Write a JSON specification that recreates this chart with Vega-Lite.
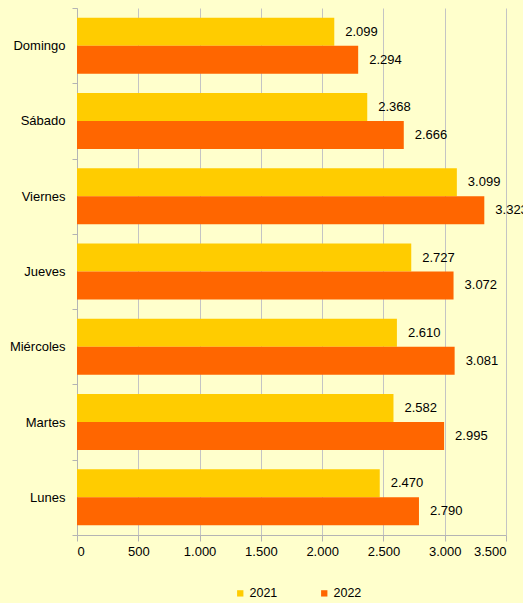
{
  "$schema": "https://vega.github.io/schema/vega-lite/v6.json",
  "width": 429,
  "height": 527,
  "autosize": {"type": "none"},
  "padding": {"left": 77, "top": 8, "right": 17, "bottom": 68},
  "background": "#FFFFCC",
  "config": {
    "locale": {"number": {"decimal": ",", "thousands": ".", "grouping": [3], "currency": ["", " €"]}},
    "view": {"stroke": null},
    "font": "Liberation Sans"
  },
  "data": {
    "values": [
      {"dia": "Domingo", "year": "2021", "value": 2099},
      {"dia": "Domingo", "year": "2022", "value": 2294},
      {"dia": "Sábado", "year": "2021", "value": 2368},
      {"dia": "Sábado", "year": "2022", "value": 2666},
      {"dia": "Viernes", "year": "2021", "value": 3099},
      {"dia": "Viernes", "year": "2022", "value": 3323},
      {"dia": "Jueves", "year": "2021", "value": 2727},
      {"dia": "Jueves", "year": "2022", "value": 3072},
      {"dia": "Miércoles", "year": "2021", "value": 2610},
      {"dia": "Miércoles", "year": "2022", "value": 3081},
      {"dia": "Martes", "year": "2021", "value": 2582},
      {"dia": "Martes", "year": "2022", "value": 2995},
      {"dia": "Lunes", "year": "2021", "value": 2470},
      {"dia": "Lunes", "year": "2022", "value": 2790}
    ]
  },
  "encoding": {
    "y": {
      "field": "dia",
      "type": "nominal",
      "sort": ["Domingo", "Sábado", "Viernes", "Jueves", "Miércoles", "Martes", "Lunes"],
      "scale": {"paddingInner": 0, "paddingOuter": 0},
      "axis": {
        "title": null,
        "tickBand": "extent",
        "grid": false,
        "domainColor": "#b4b4b4",
        "tickColor": "#b4b4b4",
        "tickSize": 5,
        "labelFontSize": 13,
        "labelColor": "#000000",
        "labelPadding": 7
      }
    },
    "yOffset": {
      "field": "year",
      "type": "nominal",
      "scale": {"paddingInner": 0, "paddingOuter": 0.345}
    },
    "x": {
      "field": "value",
      "type": "quantitative",
      "scale": {"domain": [0, 3500]},
      "axis": {
        "values": [0, 500, 1000, 1500, 2000, 2500, 3000, 3500],
        "format": ",.0f",
        "title": null,
        "gridColor": "#c4c4c4",
        "domainColor": "#b4b4b4",
        "tickColor": "#b4b4b4",
        "tickSize": 6,
        "labelFontSize": 13,
        "labelColor": "#000000",
        "labelPadding": 4
      }
    }
  },
  "layer": [
    {
      "mark": {"type": "bar"},
      "encoding": {
        "color": {
          "field": "year",
          "type": "nominal",
          "scale": {"domain": ["2021", "2022"], "range": ["#FFCC00", "#FF6600"]},
          "legend": {
            "title": null,
            "orient": "none",
            "direction": "horizontal",
            "legendX": 157,
            "legendY": 579,
            "symbolType": "square",
            "symbolSize": 40,
            "symbolStrokeWidth": 0,
            "labelFontSize": 12.5,
            "labelColor": "#000000",
            "labelOffset": 3,
            "columnPadding": 40
          }
        }
      }
    },
    {
      "mark": {"type": "text", "align": "left", "baseline": "middle", "dx": 11, "fontSize": 13, "color": "#000000"},
      "encoding": {"text": {"field": "value", "type": "quantitative", "format": ",.0f"}}
    }
  ]
}
